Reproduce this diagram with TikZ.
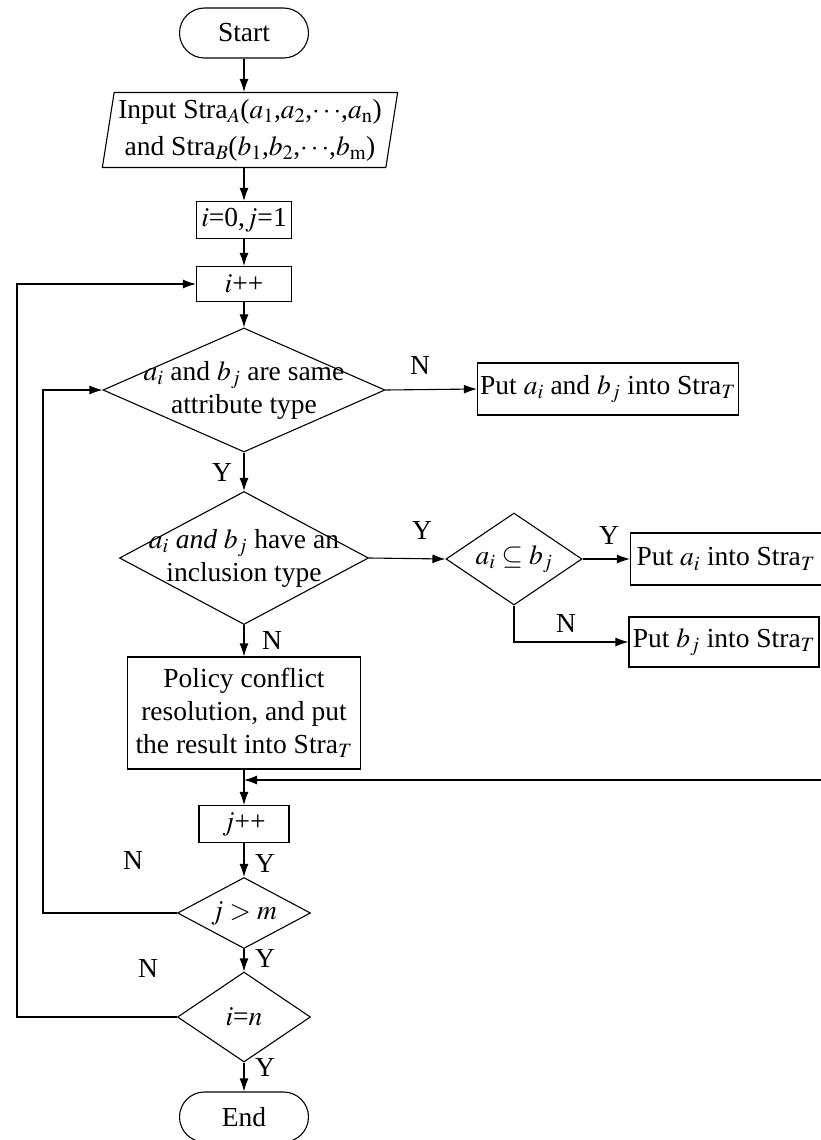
\documentclass[tikz,border=0pt]{standalone}
\usepackage{mathptmx}
\usepackage{fontspec}
\setmainfont{Liberation Serif}
\usetikzlibrary{shapes.geometric,arrows.meta}

\tikzset{
  base/.style={draw, line width=1.1pt, inner sep=2pt, align=center},
  box/.style={base, rectangle},
  terminal/.style={base, rectangle, rounded corners=25pt, minimum width=129pt, minimum height=50pt},
  decision/.style={base, diamond, inner sep=0pt},
  io/.style={base, trapezium, trapezium left angle=80, trapezium right angle=100, trapezium stretches=true},
  lbl/.style={inner sep=0pt},
  line/.style={line width=1.1pt, ->},
}

\begin{document}
\begin{tikzpicture}[x=1pt, y=-1pt, font=\fontsize{27.5}{33}\selectfont, >={Latex[length=13pt,width=9pt]}]
  \useasboundingbox (0,0) rectangle (821,1140);

  % main column
  \node[terminal] (start) at (244,33) {Start};
  \node[io, minimum width=296pt, minimum height=75pt] (input) at (250,130)
    {Input Stra$_A$($a_1$,$a_2$,$\cdots$,$a_{\mathrm{n}}$)\\[4pt]and Stra$_B$($b_1$,$b_2$,$\cdots$,$b_{\mathrm{m}}$)};
  \node[box, minimum width=95pt, minimum height=37pt] (init) at (244,220) {$i$=0,$j$=1};
  \node[box, minimum width=95pt, minimum height=35pt] (inci) at (244,284) {$i$++};
  \node[decision, minimum width=282pt, minimum height=124pt,
    label={[align=center]center:$a_i$ and $b_j$ are same\\attribute type}] (same) at (244,390) {};
  \node[decision, minimum width=249pt, minimum height=133pt,
    label={[align=center]center:$a_i$ \textit{and} $b_j$ have an\\inclusion type}] (incl) at (244,558) {};
  \node[box, minimum width=233pt, minimum height=112pt] (policy) at (244,713)
    {Policy conflict\\resolution, and put\\the result into Stra$_T$};
  \node[box, minimum width=90pt, minimum height=37pt] (incj) at (244,824) {$j$++};
  \node[decision, minimum width=133pt, minimum height=71pt,
    label={center:$j>m$}] (jm) at (244,913) {};
  \node[decision, minimum width=133pt, minimum height=90pt,
    label={center:$i$=$n$}] (in) at (244,1017) {};
  \node[terminal] (end) at (244,1117) {End};

  % right branch
  \node[box, minimum width=261pt, minimum height=52pt] (putab) at (608,389) {Put $a_i$ and $b_j$ into Stra$_T$};
  \node[decision, minimum width=136pt, minimum height=92pt,
    label={center:$a_i\subseteq b_j$}] (subset) at (514,559) {};
  \node[box, minimum width=191pt, minimum height=52pt] (puta) at (726,559) {Put $a_i$ into Stra$_T$};
  \node[box, minimum width=190pt, minimum height=50pt] (putb) at (724,642) {Put $b_j$ into Stra$_T$};

  \coordinate (inner) at (43,0);
  \coordinate (outer) at (17,0);
  \coordinate (back) at (821,780);

  % labels
  \node[lbl] (n1) at (420,365) {N};
  \node[lbl] (y1) at (222,472) {Y};
  \node[lbl] (y2) at (422,530) {Y};
  \node[lbl] (y3) at (609,535) {Y};
  \node[lbl] (n2) at (566,623) {N};
  \node[lbl] (n3) at (272,640) {N};
  \node[lbl] (n4) at (133,860) {N};
  \node[lbl] (y4) at (265,863) {Y};
  \node[lbl] (y5) at (265,958) {Y};
  \node[lbl] (n5) at (148,968) {N};
  \node[lbl] (y6) at (265,1067) {Y};

  % connectors
  \draw[line] (start) -- (start |- input.north);
  \draw[line] (input.south -| init) -- (init);
  \draw[line] (init) -- (inci);
  \draw[line] (inci) -- (same);
  \draw[line] (same.east) -- (putab.west);
  \draw[line] (same) -- (incl);
  \draw[line] (incl.east) -- (subset.west);
  \draw[line] (subset.east) -- (puta.west);
  \draw[line] (subset.south) |- (putb.west);
  \draw[line] (incl) -- (policy);
  \draw[line] (policy) -- (incj);
  \draw[line] (back) -- (back -| policy);
  \draw[line] (incj) -- (jm);
  \draw[line] (jm) -- (in);
  \draw[line] (in) -- (end);
  \draw[line] (jm.west) -- (jm.west -| inner) |- (same.west);
  \draw[line] (in.west) -- (in.west -| outer) |- (inci.west);
\end{tikzpicture}
\end{document}
